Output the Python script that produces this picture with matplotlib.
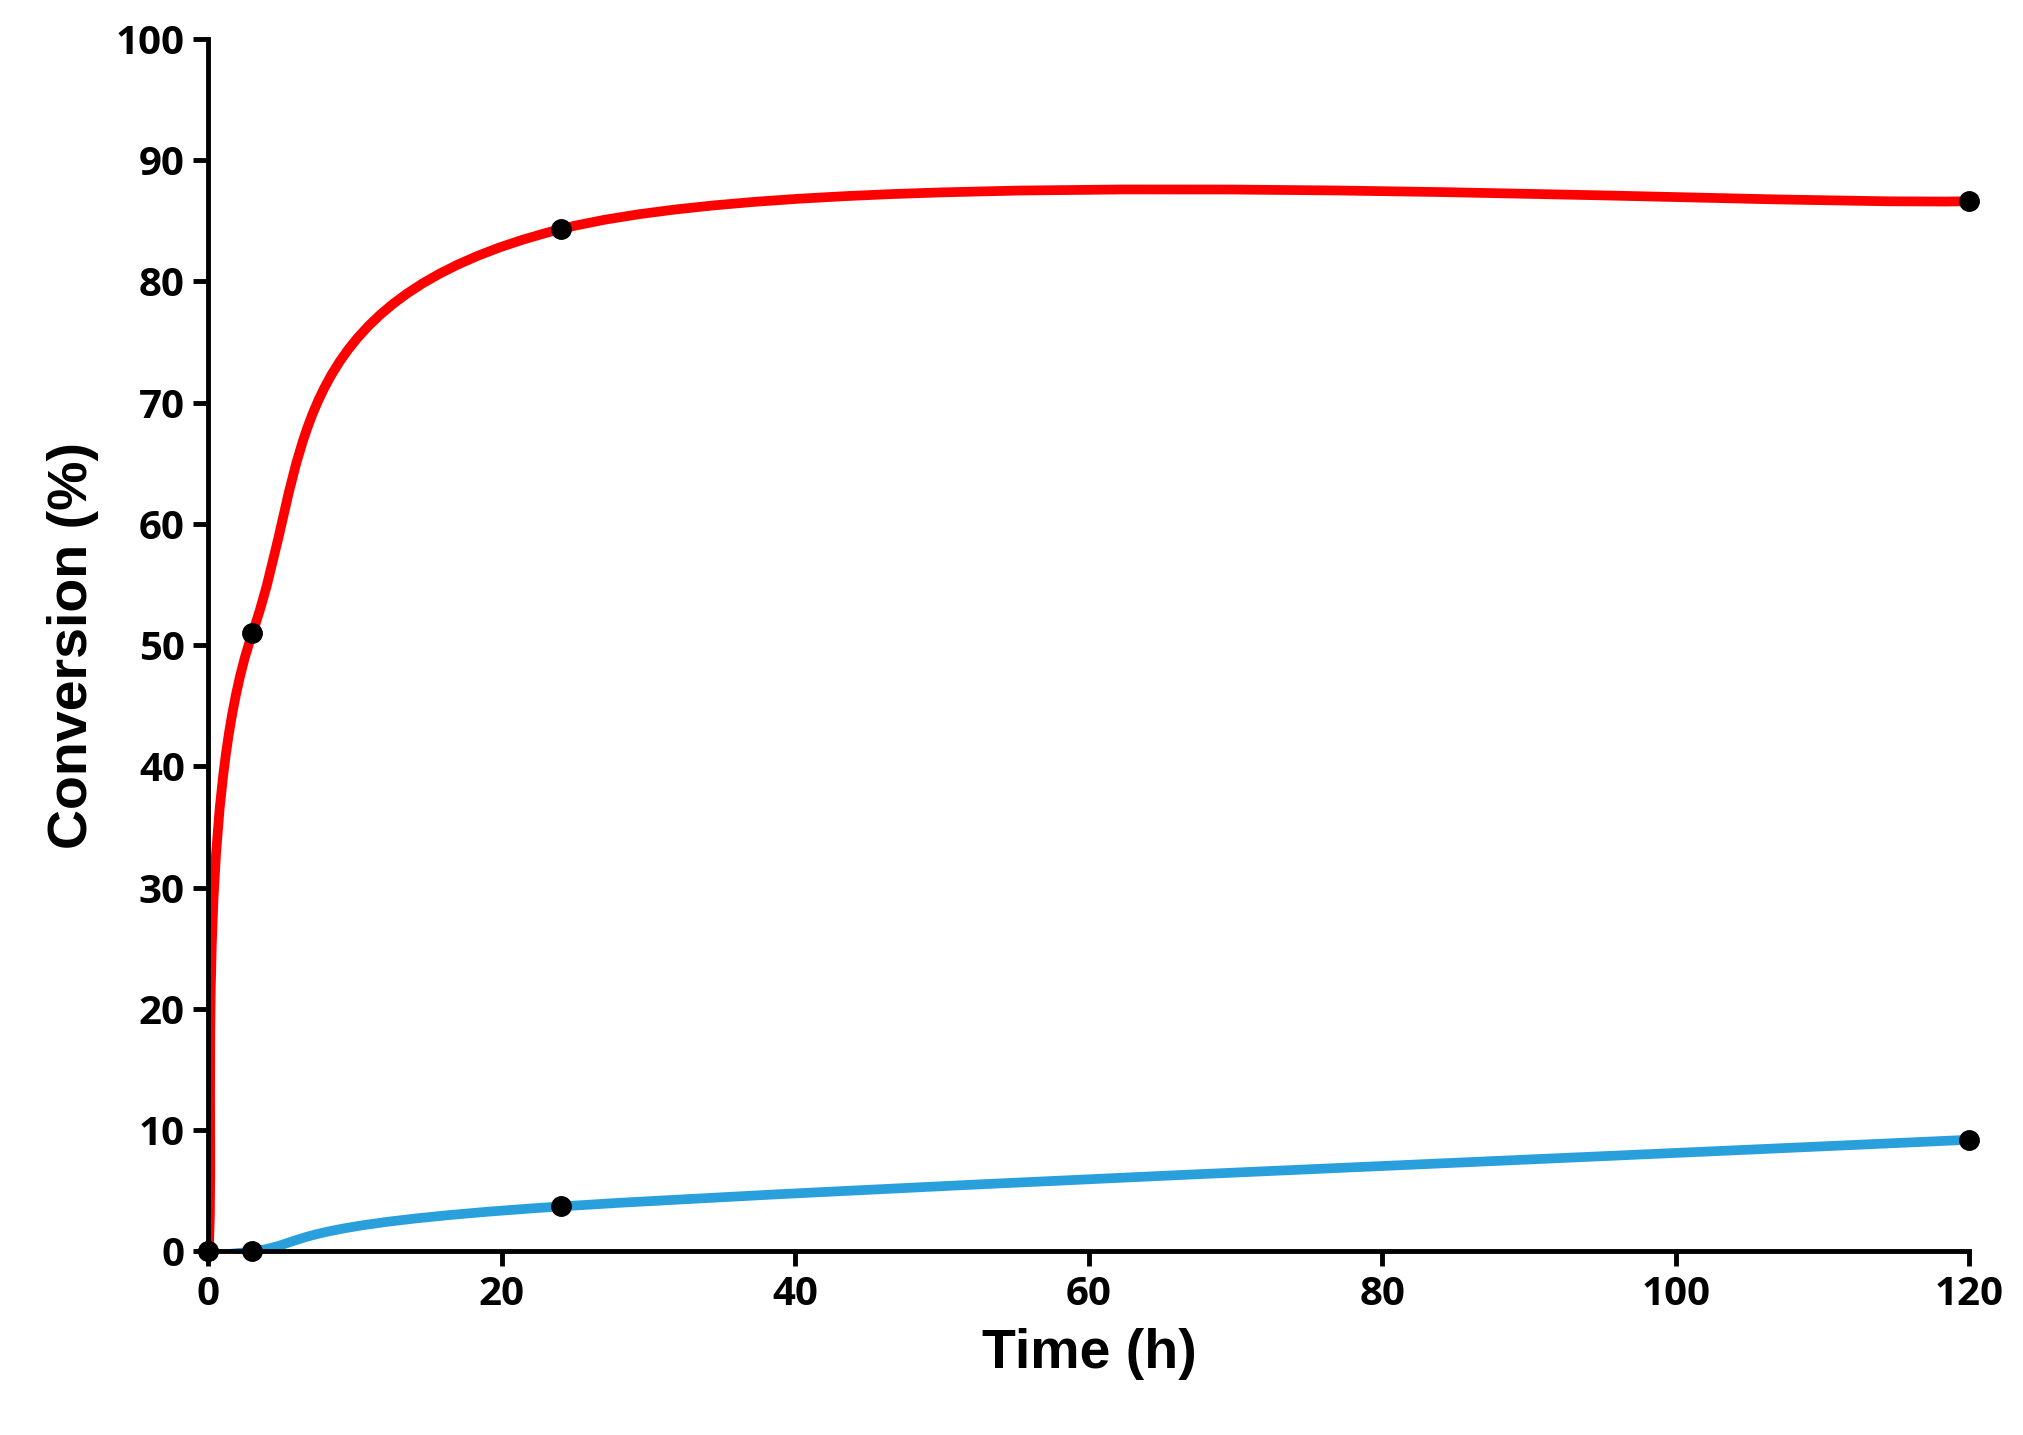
import numpy as np
import matplotlib.pyplot as plt
from matplotlib.path import Path
from matplotlib.patches import PathPatch

# Data
time_h = [0, 3, 24, 120]
red_conv = [0, 51, 84.3, 86.6]
blue_conv = [0, 0, 3.7, 9.2]

RED = "#ff0000"
BLUE = "#29a0dc"


def excel_smooth_path(xs, ys):
    """Bezier path like Excel's smoothed line (tension 1/6)."""
    pts = np.column_stack([xs, ys]).astype(float)
    n = len(pts)
    verts = [pts[0]]
    codes = [Path.MOVETO]
    for i in range(n - 1):
        p0 = pts[i - 1] if i > 0 else pts[i]
        p1, p2 = pts[i], pts[i + 1]
        p3 = pts[i + 2] if i + 2 < n else pts[i + 1]
        c1 = p1 + (p2 - p0) / 6
        c2 = p2 - (p3 - p1) / 6
        verts += [c1, c2, p2]
        codes += [Path.CURVE4] * 3
    return Path(verts, codes)


fig = plt.figure(figsize=(20.24, 14.35), dpi=100)
ax = fig.add_axes([0.103, 0.128, 0.87, 0.845])

for ys, col in [(red_conv, RED), (blue_conv, BLUE)]:
    ax.add_patch(PathPatch(excel_smooth_path(time_h, ys), facecolor="none",
                           edgecolor=col, lw=7, capstyle="round", zorder=2))
    ax.plot(time_h, ys, "o", color="black", ms=14, zorder=3, clip_on=False)

ax.set_xlim(0, 120)
ax.set_ylim(0, 100)
ax.set_xticks(range(0, 121, 20))
ax.set_yticks(range(0, 101, 10))
for s in ["top", "right"]:
    ax.spines[s].set_visible(False)
for s in ["left", "bottom"]:
    ax.spines[s].set_linewidth(3.5)
ax.tick_params(direction="out", length=11, width=3.5, labelsize=29, pad=6)
for lab in ax.get_xticklabels() + ax.get_yticklabels():
    lab.set_fontweight("bold")
    lab.set_fontfamily("Open Sans")

ax.set_xlabel("Time (h)", fontsize=40, fontweight="bold",
              fontfamily="Liberation Sans", labelpad=10)
ax.set_ylabel("Conversion (%)", fontsize=40, fontweight="bold",
              fontfamily="Liberation Sans", labelpad=12)

fig.savefig("out.png", dpi=100)
